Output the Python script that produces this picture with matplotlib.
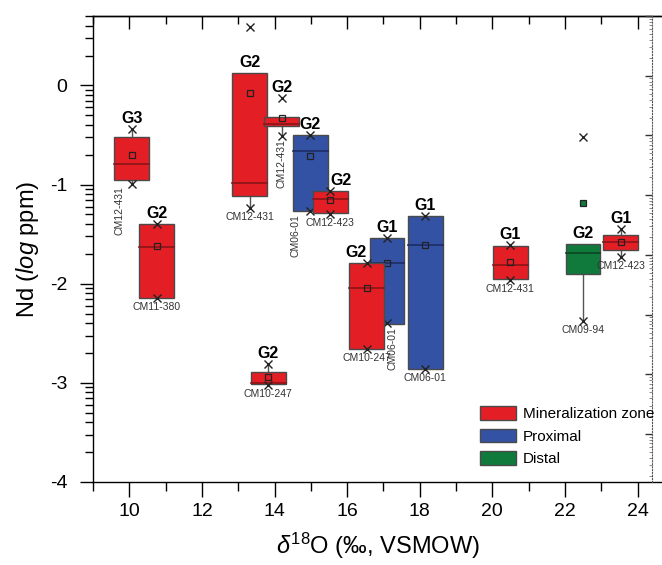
import numpy as np
import matplotlib
matplotlib.use('Agg')
import matplotlib.pyplot as plt
from matplotlib.patches import Rectangle, Patch
from matplotlib.ticker import FixedLocator, MultipleLocator, NullFormatter

plt.rcParams['font.family'] = ['Liberation Sans', 'DejaVu Sans']
plt.rcParams['mathtext.fontset'] = 'custom'
plt.rcParams['mathtext.rm'] = 'Liberation Sans'
plt.rcParams['mathtext.it'] = 'Liberation Sans:italic'
plt.rcParams['mathtext.bf'] = 'Liberation Sans:bold'

# d18O (permil) of each sample set, and Nd statistics in log ppm
d18o   = [10.07, 10.75, 13.32, 14.20, 14.99, 15.54, 17.10, 16.54, 18.15, 13.83, 20.49, 22.50, 23.54]
q1     = [-0.95, -2.14, -1.12, -0.41, -1.27, -1.29, -2.41, -2.66, -2.86, -3.01, -1.95, -1.90, -1.66]
q3     = [-0.52, -1.40,  0.13, -0.32, -0.50, -1.07, -1.54, -1.79, -1.32, -2.89, -1.62, -1.60, -1.51]
median = [-0.79, -1.63, -0.98, -0.39, -0.66, -1.15, -1.79, -2.04, -1.61, -3.00, -1.81, -1.69, -1.58]
mean   = [-0.70, -1.62, -0.08, -0.33, -0.71, -1.16, -1.79, -2.04, -1.61, -2.94, -1.78, -1.19, -1.58]
wlo    = [-0.99, -2.14, -1.24, -0.51, -1.27, -1.30, -2.41, -2.66, -2.86, -3.02, -1.95, -2.38, -1.73]
whi    = [-0.44, -1.40,  0.13, -0.32, -0.50, -1.06, -1.54, -1.79, -1.32, -2.81, -1.62, -1.60, -1.45]
nd_min = [-0.99, -2.14, -1.24, -0.51, -1.27, -1.30, -2.40, -2.66, -2.86, -3.02, -1.96, -2.38, -1.73]
nd_max = [-0.44, -1.40,  0.59, -0.13, -0.50, -1.06, -1.54, -1.79, -1.32, -2.81, -1.61, -0.52, -1.45]
zone   = ['min', 'min', 'min', 'min', 'prox', 'min', 'prox', 'min', 'prox', 'min', 'min', 'dist', 'min']
group  = ['G3', 'G2', 'G2', 'G2', 'G2', 'G2', 'G1', 'G2', 'G1', 'G2', 'G1', 'G2', 'G1']
sample = ['CM12-431', 'CM11-380', 'CM12-431', 'CM12-431', 'CM06-01', 'CM12-423', 'CM06-01',
          'CM10-247', 'CM06-01', 'CM10-247', 'CM12-431', 'CM09-94', 'CM12-423']

zone_names = {'min': 'Mineralization zone', 'prox': 'Proximal', 'dist': 'Distal'}
fill = {'min': '#e31e25', 'prox': '#3452a3', 'dist': '#0f7a3c'}
dark = {'min': '#8a1418', 'prox': '#1d2d66', 'dist': '#0a4522'}

# how the sample names sit: (rotated?, shift in px)
name_style = [(True, -12), (False, 0), (False, 0), (True, 0), (True, -15), (False, 0), (True, 5),
              (False, 0), (False, 0), (False, 0), (False, 0), (False, 0), (False, 0)]
group_dx = [0, 0, 0, 0, 0, 11, 0, -11, 0, 0, 0, 0, 0]

W, H, dpi = 662, 565, 100
fig = plt.figure(figsize=(W / dpi, H / dpi), dpi=dpi)
ax = fig.add_axes([93 / W, 1 - 482 / H, (W - 93) / W, (482 - 16) / H])
px = 72.0 / dpi  # one pixel in points

bw = 0.96
for i in range(len(d18o)):
    x = d18o[i]
    z = zone[i]
    zo = 3 + i * 0.1
    # whiskers
    ax.plot([x, x], [wlo[i], q1[i]], color='#555555', lw=1, zorder=zo)
    ax.plot([x, x], [q3[i], whi[i]], color='#555555', lw=1, zorder=zo)
    ax.add_patch(Rectangle((x - bw / 2, q1[i]), bw, q3[i] - q1[i], facecolor=fill[z],
                           edgecolor='#4a4a4a', lw=1, zorder=zo))
    ax.plot([x - bw / 2, x + bw / 2], [median[i], median[i]], color=dark[z], lw=1.2, zorder=zo)
    mfc = fill[z] if z == 'dist' else 'none'
    ax.plot(x, mean[i], 's', ms=5, mfc=mfc, mec='#222222', mew=0.9, zorder=zo + 0.05)
    ax.plot([x, x], [nd_min[i], nd_max[i]], 'x', ms=5.5, color='#222222', mew=1, zorder=zo + 0.05)

    # group label above the box (or above the max if it sits close to the box)
    top = nd_max[i] if nd_max[i] - q3[i] < 0.3 else whi[i]
    ax.annotate(group[i], (x, top), xytext=(group_dx[i] * px, 6 * px), textcoords='offset points',
                ha='center', va='baseline', fontsize=11.5, fontweight='bold', zorder=10)

    bottom = min(nd_min[i], wlo[i], q1[i])
    rot, dx = name_style[i]
    if rot:
        ax.annotate(sample[i], (x, bottom), xytext=(dx * px, -3 * px), textcoords='offset points',
                    ha='center', va='top', rotation=90, fontsize=7.5, color='#333333', zorder=10)
    else:
        ax.annotate(sample[i], (x, bottom), xytext=(dx * px, -4 * px), textcoords='offset points',
                    ha='center', va='top', fontsize=7.5, color='#333333', zorder=10)

ax.set_xlim(9, 9 + (W - 93) / 36.3)
ax.set_ylim(-4, 0.7)

ax.xaxis.set_major_locator(MultipleLocator(2))
ax.xaxis.set_minor_locator(MultipleLocator(1))
ax.tick_params(axis='x', which='major', direction='out', length=11, width=1, labelsize=14, pad=4)
ax.tick_params(axis='x', which='minor', direction='out', length=6.5, width=1)

yt = [-4, -3, -2, -1, 0]
ax.yaxis.set_major_locator(FixedLocator(yt))
ax.set_yticklabels([str(v) for v in yt])
ymin = [n + np.log10(k) for n in range(-4, 1) for k in range(2, 10) if n + np.log10(k) <= 0.7]
ax.yaxis.set_minor_locator(FixedLocator(ymin))
ax.tick_params(axis='y', which='major', direction='out', length=9.5, width=1, labelsize=14, pad=9)
ax.tick_params(axis='y', which='minor', direction='out', length=6, width=1)

# top axis: inward ticks only
top_ax = ax.secondary_xaxis('top')
top_ax.xaxis.set_major_locator(MultipleLocator(2))
top_ax.xaxis.set_minor_locator(MultipleLocator(1))
top_ax.tick_params(which='major', direction='in', length=9.5, width=1, labeltop=False)
top_ax.tick_params(which='minor', direction='in', length=5.5, width=1)

ax.spines['right'].set_visible(False)
for s in ['left', 'bottom', 'top']:
    ax.spines[s].set_linewidth(1)
top_ax.spines['top'].set_linewidth(1)

ax.set_xlabel(r'$\delta^{18}$O (‰, VSMOW)', fontsize=17, labelpad=8)
ax.set_ylabel(r'Nd ($\mathit{log}$ ppm)', fontsize=17, labelpad=6)

# edge of the neighbouring panel: its y axis with log ticks
nb = fig.add_axes([652 / W, 1 - 482 / H, 0.001, (482 - 16) / H])
nb.set_ylim(-3.9, 0)
nb.yaxis.set_major_locator(MultipleLocator(0.5))
nb.yaxis.set_minor_locator(FixedLocator([n * 0.5 + 0.5 * np.log10(k) for n in range(-8, 1) for k in range(2, 10)]))
nb.yaxis.set_major_formatter(NullFormatter())
nb.set_xticks([])
for s in ['top', 'bottom', 'right']:
    nb.spines[s].set_visible(False)
nb.spines['left'].set_linestyle(':')
nb.spines['left'].set_color('#555555')
nb.tick_params(axis='y', which='major', direction='out', length=5, width=1, color='#333333')
nb.tick_params(axis='y', which='minor', direction='out', length=2, width=0.6, color='#777777')
nb.patch.set_visible(False)

handles = [Patch(facecolor=fill[k], edgecolor='#4a4a4a', lw=1, label=zone_names[k])
           for k in ['min', 'prox', 'dist']]
fig.legend(handles=handles, loc='upper left', bbox_to_anchor=(480 / W, 1 - 406 / H),
           frameon=False, fontsize=11, handlelength=2.35, handleheight=1.0,
           handletextpad=0.45, labelspacing=0.5, borderpad=0, borderaxespad=0)

fig.savefig('out.png', dpi=dpi)
